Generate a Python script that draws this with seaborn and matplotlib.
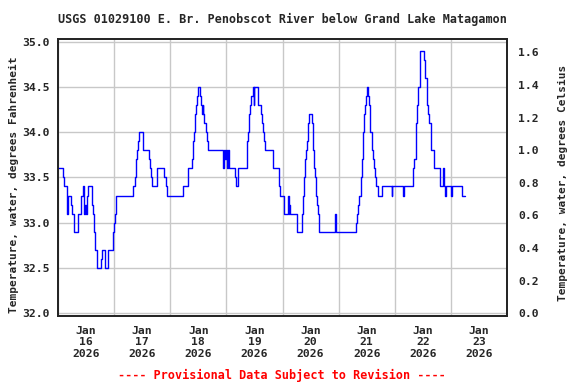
import numpy as np
import pandas as pd
import seaborn as sns
import matplotlib
matplotlib.use("Agg")
import matplotlib.pyplot as plt
import matplotlib.dates as mdates

# step breakpoints: hours since 2026-01-16 00:00, deg F
hours = [0.0, 2.3, 2.6, 4.0, 4.3, 5.7, 6.1, 7.0, 8.7, 10.0, 10.8, 11.2, 11.5, 11.8,
         12.2, 13.0, 14.7, 15.1, 15.5, 16.0, 16.7, 18.5, 19.0, 20.0, 21.5, 23.4,
         23.8, 24.2, 24.7,
         31.9, 32.8, 33.2, 33.7, 34.1, 34.8, 36.5, 39.1, 39.5, 39.9, 40.3, 42.5,
         45.5, 46.0, 46.8, 53.5,
         55.5, 57.4, 57.9, 58.3, 58.7, 59.2, 59.6, 60.0, 60.7, 61.0, 61.5, 61.8,
         62.2, 62.6, 63.2, 63.6, 64.0, 70.6, 70.9, 71.4, 72.0, 72.4, 72.7, 73.2,
         75.7, 76.1, 77.1,
         80.7, 81.1, 81.6, 82.0, 82.4, 83.3, 83.6, 83.8, 85.7, 86.6, 87.2, 87.7,
         88.2, 88.7, 91.8, 94.7, 95.1, 96.7, 98.5, 98.7, 98.9, 99.1,
         102.4, 104.2, 104.7, 105.1, 105.5, 106.0, 106.4, 106.8, 107.3, 108.7,
         109.1, 109.5, 110.0, 110.4, 110.8, 111.2, 111.8, 118.5, 118.9,
         127.4, 127.8, 128.2, 128.6, 129.5, 129.9, 130.4, 130.8, 131.2, 131.6,
         132.1, 132.5, 132.9, 133.3, 134.2, 134.6, 135.1, 135.5, 135.9, 137.0,
         138.5, 142.8, 143.0, 147.7, 147.9,
         151.6, 152.4, 152.9, 153.3, 153.7, 154.1, 154.6, 155.0, 156.7, 157.1,
         157.6, 158.4, 158.8, 159.3, 159.7, 160.6, 163.4, 164.8, 165.1, 165.6,
         166.0, 166.3, 168.1, 168.3, 172.7, 174.1]
temp_f = [33.6, 33.5, 33.4, 33.1, 33.3, 33.2, 33.1, 32.9, 33.1, 33.3, 33.4, 33.1, 33.2, 33.1,
          33.3, 33.4, 33.2, 33.1, 32.9, 32.7, 32.5, 32.6, 32.7, 32.5, 32.7, 32.9,
          33.0, 33.1, 33.3,
          33.4, 33.5, 33.7, 33.8, 33.9, 34.0, 33.8, 33.7, 33.6, 33.5, 33.4, 33.6,
          33.5, 33.4, 33.3, 33.4,
          33.6, 33.7, 33.9, 34.0, 34.2, 34.3, 34.4, 34.5, 34.4, 34.3, 34.2, 34.3,
          34.2, 34.1, 34.0, 33.9, 33.8, 33.6, 33.8, 33.7, 33.8, 33.6, 33.8, 33.6,
          33.5, 33.4, 33.6,
          33.9, 34.0, 34.2, 34.3, 34.4, 34.5, 34.3, 34.5, 34.3, 34.2, 34.1, 34.0,
          33.9, 33.8, 33.6, 33.4, 33.3, 33.1, 33.3, 33.1, 33.2, 33.1,
          32.9, 33.1, 33.3, 33.5, 33.7, 33.8, 33.9, 34.1, 34.2, 34.1,
          33.8, 33.6, 33.5, 33.3, 33.2, 33.1, 32.9, 33.1, 32.9,
          33.0, 33.1, 33.2, 33.3, 33.5, 33.7, 34.0, 34.2, 34.3, 34.4,
          34.5, 34.4, 34.3, 34.0, 33.8, 33.7, 33.6, 33.5, 33.4, 33.3,
          33.4, 33.3, 33.4, 33.3, 33.4,
          33.6, 33.7, 33.9, 34.1, 34.3, 34.5, 34.7, 34.9, 34.8, 34.6,
          34.3, 34.2, 34.1, 33.9, 33.8, 33.6, 33.4, 33.6, 33.4, 33.3,
          33.4, 33.4, 33.3, 33.4, 33.3, 33.3]

f_ticks = [32.0, 32.5, 33.0, 33.5, 34.0, 34.5, 35.0]
c_ticks = [0.0, 0.2, 0.4, 0.6, 0.8, 1.0, 1.2, 1.4, 1.6]

title = "USGS 01029100 E. Br. Penobscot River below Grand Lake Matagamon"
mono = "DejaVu Sans Mono"

df = pd.DataFrame({
    "time": pd.Timestamp("2026-01-16") + pd.to_timedelta(hours, unit="h"),
    "temp": temp_f,
})

sns.set_style("white")
plt.rcParams["font.family"] = mono
plt.rcParams["font.weight"] = "bold"

fig = plt.figure(figsize=(5.76, 3.84), dpi=100)
ax = fig.add_axes([58 / 576, 1 - 316 / 384, 449 / 576, (316 - 39.3) / 384])

sns.lineplot(data=df, x="time", y="temp", ax=ax, color="#0000ff", lw=1.0,
             drawstyle="steps-post")

lo, hi = 31.97, 35.025
ax.set_ylim(lo, hi)
ax.set_xlim(pd.Timestamp("2026-01-16"), pd.Timestamp("2026-01-24"))
ax.set_yticks(f_ticks)
ax.set_yticklabels([f"{v:.1f}" for v in f_ticks], fontsize=8.2, fontweight="bold")
ax.set_xlabel("")
ax.set_ylabel("")

ax.xaxis.set_major_locator(mdates.DayLocator())
ax.xaxis.set_major_formatter(plt.NullFormatter())
ax.xaxis.set_minor_locator(mdates.HourLocator(byhour=[12]))
ax.xaxis.set_minor_formatter(mdates.DateFormatter("%b\n%d\n%Y"))
ax.tick_params(axis="x", which="both", length=0, pad=7)
for lab in ax.xaxis.get_minorticklabels():
    lab.set_fontsize(8.2)
    lab.set_fontweight("bold")
ax.tick_params(axis="y", length=0, pad=6)

ax.grid(True, which="major", color="#c8c8c8", lw=1.0)
for s in ax.spines.values():
    s.set_color("black")
    s.set_linewidth(1.2)

ax2 = ax.twinx()
ax2.set_ylim((lo - 32) * 5 / 9, (hi - 32) * 5 / 9)
ax2.set_yticks(c_ticks)
ax2.set_yticklabels([f"{v:.1f}" for v in c_ticks], fontsize=8.2, fontweight="bold")
ax2.tick_params(axis="y", length=0, pad=8)
for s in ax2.spines.values():
    s.set_linewidth(1.2)

fig.text(282.5 / 576, 1 - 19 / 384, title, ha="center", va="center",
         fontsize=8.5, fontweight="bold", family=mono)
fig.text(14 / 576, 1 - 185 / 384, "Temperature, water, degrees Fahrenheit",
         rotation=90, ha="center", va="center", fontsize=8, fontweight="bold")
fig.text(563 / 576, 1 - 183 / 384, "Temperature, water, degrees Celsius",
         rotation=90, ha="center", va="center", fontsize=8, fontweight="bold")
fig.text(282 / 576, 1 - 375 / 384, "---- Provisional Data Subject to Revision ----",
         ha="center", va="center", fontsize=8.5, fontweight="bold", color="red")

fig.savefig("out.png", dpi=100)
